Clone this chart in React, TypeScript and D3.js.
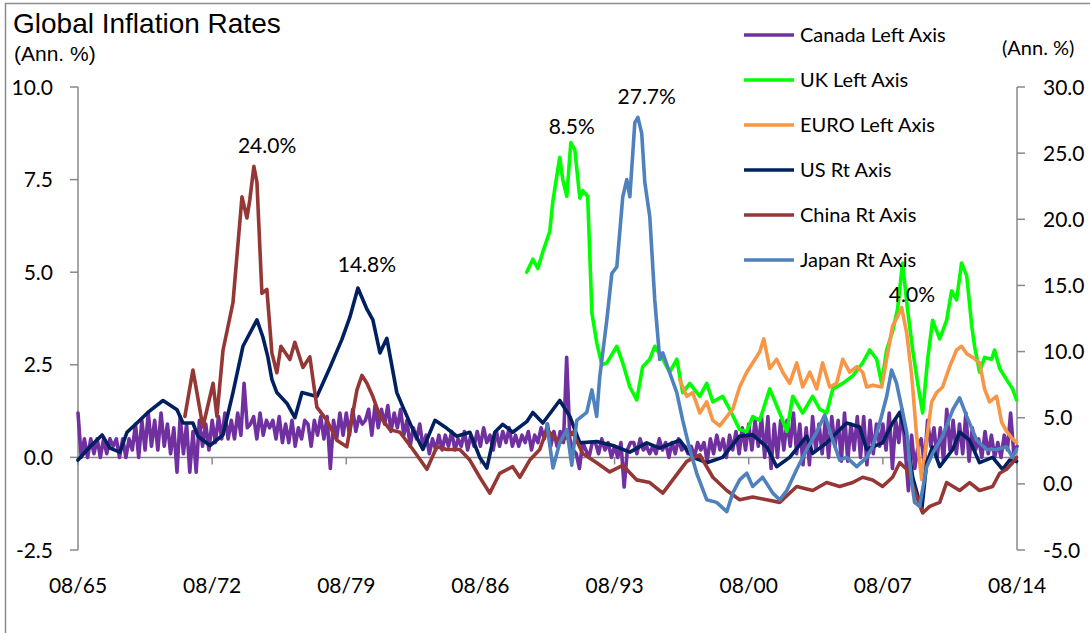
import React from "react";
import * as d3 from "d3";

// ---------- DATA ----------
const xTickLabels = ["08/65", "08/72", "08/79", "08/86", "08/93", "08/00", "08/07", "08/14"];
const xTickYears = [1965.583, 1972.583, 1979.583, 1986.583, 1993.583, 2000.583, 2007.583, 2014.583];
const leftTicks = [-2.5, 0, 2.5, 5, 7.5, 10];
const rightTicks = [-5, 0, 5, 10, 15, 20, 25, 30];

// Canada (left axis), every two months from Aug 1965 (one row per year)
const canadaStart = 1965.583;
const canadaStep = 1 / 6;
const canadaValues = [
  1.2, 0.0, 0.5, 0.0, 0.5, 0.1,
  0.5, 0.0, 0.5, 0.1, 0.5, 0.3,
  0.5, 0.0, 0.5, 0.0, 0.5, 0.2,
  0.9, 0.0, 1.0, 0.2, 1.2, 0.3,
  1.0, 0.2, 1.2, 0.3, 0.9, 0.1,
  0.8, -0.4, 1.1, 0.1, 0.9, -0.4,
  0.7, -0.4, 1.0, 0.3, 0.9, 0.2,
  1.0, 0.4, 1.1, 0.5, 1.2, 0.5,
  1.0, 0.5, 1.2, 0.6, 2.0, 0.8,
  0.9, 1.1, 0.5, 1.2, 0.6, 1.0,
  0.8, 1.0, 0.5, 1.1, 0.4, 0.9,
  0.4, 1.0, 0.3, 0.8, 0.5, 1.0,
  0.9, 0.3, 1.0, 0.6, 1.1, 0.5,
  1.1, -0.3, 1.0, 0.5, 1.2, 0.6,
  1.2, 0.6, 1.3, 0.7, 1.1, 0.9,
  1.0, 1.3, 0.6, 1.4, 0.8, 1.3,
  0.9, 1.4, 0.7, 1.2, 0.8, 1.3,
  0.6, 1.0, 0.3, 0.8, 0.5, 0.9,
  0.3, 0.6, 0.1, 0.5, 0.2, 0.6,
  0.2, 0.6, 0.3, 0.7, 0.2, 0.5,
  0.3, 0.7, 0.2, 0.6, 0.3, 0.7,
  0.3, 0.8, 0.4, 0.6, 0.2, 0.7,
  0.3, 0.7, 0.4, 0.8, 0.3, 0.6,
  0.3, 0.6, 0.4, 0.7, 0.2, 0.6,
  0.4, 0.8, 0.5, 0.9, 0.3, 0.7,
  0.3, 0.7, 0.4, 2.7, 0.5, 0.2,
  0.1, -0.3, 0.4, 0.2, 0.0, 0.4,
  0.4, 0.1, 0.5, 0.2, 0.4, 0.0,
  0.3, 0.0, 0.4, -0.8, 0.2, 0.4,
  0.4, 0.1, 0.5, 0.2, 0.3, 0.1,
  0.3, 0.1, 0.5, 0.2, 0.4, 0.0,
  0.4, 0.1, 0.5, 0.2, 0.3, 0.1,
  0.3, 0.0, 0.4, 0.2, 0.4, -0.1,
  0.5, 0.1, 0.6, 0.2, 0.5, 0.0,
  0.6, 0.2, 0.7, 0.1, 0.8, 0.2,
  0.9, 0.2, 1.0, 0.3, 1.1, 0.0,
  1.1, -0.3, 0.9, 0.0, 1.0, 0.2,
  1.0, 0.3, 1.2, 0.1, 0.9, -0.2,
  0.8, -0.2, 1.1, 0.2, 0.9, 0.1,
  1.0, 0.0, 1.1, 0.3, 1.0, -0.1,
  1.2, -0.1, 0.9, 0.2, 1.1, 0.0,
  1.1, -0.2, 1.0, 0.1, 0.9, 0.3,
  0.9, 0.2, 1.2, -0.3, 1.0, 0.4,
  1.3, 0.2, -0.9, 0.6, -0.3, 0.3,
  0.5, -0.2, 1.0, 0.3, 0.8, 0.0,
  0.8, -0.1, 1.3, 0.2, 1.0, 0.1,
  0.9, 0.1, 1.2, -0.1, 0.8, 0.2,
  0.5, 0.0, 0.7, 0.1, 0.6, 0.0,
  0.4, 0.0, 0.6, 0.2, 1.2, 0.1,
  0.3,
];

// UK (left axis) [year, value]
const ukData: [number, number][] = [
  [1989.0, 5.0], [1989.32, 5.35], [1989.58, 5.1], [1989.84, 5.55], [1990.2, 6.1], [1990.36, 6.9],
  [1990.72, 8.1], [1990.88, 7.5], [1991.09, 7.05], [1991.3, 8.5], [1991.51, 8.3], [1991.77, 7.0],
  [1991.92, 7.2], [1992.18, 7.05], [1992.4, 3.9], [1992.65, 3.1], [1992.92, 2.5], [1993.18, 2.55],
  [1993.7, 3.0], [1994.01, 2.55], [1994.38, 1.9], [1994.74, 1.55], [1995.05, 2.45], [1995.42, 2.65],
  [1995.68, 3.0], [1996.1, 2.65], [1996.46, 2.3], [1996.83, 2.65], [1997.14, 1.75], [1997.51, 2.0],
  [1998.03, 1.65], [1998.39, 2.0], [1998.71, 1.5], [1999.22, 1.65], [1999.59, 1.3], [2000.11, 0.75],
  [2000.48, 0.7], [2000.79, 1.1], [2001.16, 1.0], [2001.68, 1.85], [2002.2, 1.2], [2002.57, 0.7],
  [2002.88, 1.65], [2003.4, 1.2], [2003.92, 1.65], [2004.29, 1.3], [2004.65, 1.2], [2004.97, 1.85],
  [2005.49, 2.0], [2006.01, 2.2], [2006.53, 2.55], [2006.9, 2.9], [2007.26, 2.65], [2007.52, 2.0],
  [2007.78, 2.9], [2008.09, 3.4], [2008.35, 4.0], [2008.61, 5.25], [2008.87, 4.0], [2009.14, 2.9],
  [2009.4, 2.0], [2009.66, 1.2], [2009.92, 2.65], [2010.18, 3.7], [2010.55, 3.2], [2010.91, 3.7],
  [2011.17, 4.5], [2011.43, 4.25], [2011.69, 5.25], [2011.96, 4.9], [2012.22, 3.55], [2012.37, 3.0],
  [2012.63, 2.3], [2012.89, 2.7], [2013.26, 2.65], [2013.41, 2.9], [2013.68, 2.4], [2014.04, 2.1],
  [2014.35, 1.85], [2014.56, 1.55],
];

// EURO (left axis)
const euroData: [number, number][] = [
  [1996.98, 2.1], [1997.35, 1.65], [1997.66, 1.75], [1998.03, 1.2], [1998.39, 1.5], [1998.71, 1.0],
  [1999.07, 0.85], [1999.44, 1.1], [1999.75, 1.3], [2000.11, 1.9], [2000.48, 2.3], [2000.79, 2.55],
  [2001.16, 2.85], [2001.37, 3.2], [2001.68, 2.4], [2002.04, 2.65], [2002.36, 2.3], [2002.72, 2.0],
  [2003.09, 2.55], [2003.4, 1.9], [2003.77, 2.3], [2004.13, 1.85], [2004.44, 2.55], [2004.81, 1.9],
  [2005.17, 2.0], [2005.49, 2.65], [2005.85, 2.3], [2006.22, 2.45], [2006.53, 2.3], [2006.74, 1.9],
  [2007.05, 1.95], [2007.52, 1.9], [2007.78, 2.65], [2008.09, 3.55], [2008.35, 3.8], [2008.56, 4.05],
  [2008.83, 3.35], [2009.09, 2.2], [2009.35, 0.55], [2009.61, -0.6], [2009.87, 0.5], [2010.13, 1.5],
  [2010.39, 1.75], [2010.7, 1.9], [2011.07, 2.45], [2011.43, 2.9], [2011.69, 3.0], [2011.96, 2.8],
  [2012.27, 2.7], [2012.63, 2.55], [2012.89, 1.85], [2013.15, 1.5], [2013.52, 1.65], [2013.78, 0.95],
  [2014.04, 0.7], [2014.35, 0.5], [2014.56, 0.4],
];

// US (right axis)
const usData: [number, number][] = [
  [1965.58, 1.8], [1966.21, 2.8], [1966.84, 3.7], [1967.25, 2.7], [1967.77, 2.4], [1968.14, 3.9],
  [1968.66, 4.6], [1969.23, 5.4], [1970.02, 6.3], [1970.75, 5.6], [1971.06, 4.6], [1971.58, 4.6],
  [1971.84, 3.6], [1972.47, 2.9], [1973.15, 3.7], [1973.67, 6.9], [1974.19, 10.4], [1974.92, 12.4],
  [1975.23, 11.1], [1975.49, 9.6], [1975.7, 7.9], [1975.96, 6.9], [1976.48, 6.1], [1976.9, 5.0],
  [1977.27, 6.9], [1978.05, 6.6], [1978.73, 8.8], [1979.35, 10.9], [1979.77, 12.6], [1980.19, 14.8],
  [1980.66, 13.2], [1980.97, 12.4], [1981.34, 9.9], [1981.7, 11.0], [1982.22, 6.9], [1982.54, 5.8],
  [1983.06, 4.1], [1983.58, 2.6], [1984.21, 4.8], [1984.83, 4.2], [1985.35, 3.6], [1986.03, 3.9],
  [1986.55, 2.0], [1986.92, 1.2], [1987.33, 3.9], [1987.75, 4.5], [1988.27, 3.9], [1989.0, 4.7],
  [1989.32, 5.4], [1989.84, 4.6], [1990.72, 6.3], [1991.25, 5.1], [1991.77, 3.1], [1992.65, 3.2],
  [1993.49, 2.9], [1994.38, 2.4], [1995.26, 3.1], [1995.94, 2.7], [1996.98, 3.3], [1997.66, 2.0],
  [1998.39, 1.6], [1999.22, 2.0], [2000.11, 3.6], [2000.79, 3.7], [2001.52, 2.8], [2002.04, 1.3],
  [2002.72, 2.0], [2003.61, 3.6], [2003.92, 2.3], [2004.65, 3.1], [2005.69, 4.6], [2006.37, 4.3],
  [2006.74, 2.6], [2007.05, 2.8], [2007.57, 3.1], [2008.09, 4.6], [2008.46, 5.4], [2008.83, 3.6],
  [2009.14, 0.5], [2009.61, -2.0], [2009.87, 1.6], [2010.18, 2.8], [2010.55, 1.3], [2011.23, 2.6],
  [2011.59, 3.9], [2012.11, 3.3], [2012.63, 1.6], [2013.31, 2.0], [2013.83, 1.1], [2014.2, 1.8],
  [2014.56, 1.7],
];

// China (right axis)
const chinaData: [number, number][] = [
  [1971.16, 5.1], [1971.58, 8.6], [1971.79, 6.9], [1972.1, 4.3], [1972.31, 5.6], [1972.63, 7.6],
  [1972.83, 5.1], [1973.15, 10.1], [1973.67, 13.7], [1974.14, 21.7], [1974.4, 20.1], [1974.55, 21.5],
  [1974.76, 24.0], [1974.92, 22.8], [1975.18, 14.4], [1975.44, 14.7], [1975.7, 9.9], [1975.96, 8.4],
  [1976.17, 10.4], [1976.64, 9.4], [1976.9, 10.7], [1977.32, 8.8], [1977.68, 9.6], [1978.05, 5.8],
  [1978.57, 4.8], [1979.09, 3.3], [1979.61, 2.8], [1980.14, 7.1], [1980.4, 8.2], [1980.66, 7.6],
  [1980.97, 6.6], [1981.34, 5.1], [1981.86, 4.1], [1982.38, 3.9], [1983.06, 2.6], [1983.79, 1.1],
  [1984.31, 2.8], [1984.83, 2.6], [1985.51, 2.6], [1986.03, 1.8], [1986.55, 0.5], [1987.07, -0.7],
  [1987.59, 0.8], [1988.27, 1.3], [1988.64, 0.5], [1989.16, 1.8], [1989.68, 2.6], [1990.05, 4.1],
  [1990.72, 3.1], [1991.4, 3.9], [1991.92, 2.3], [1992.65, 1.6], [1993.33, 0.9], [1994.01, 1.4],
  [1994.74, 0.3], [1995.42, 0.1], [1996.1, -0.7], [1996.62, 0.3], [1997.35, 1.7], [1998.03, 2.2],
  [1998.71, 0.5], [1999.44, -0.5], [2000.11, -1.2], [2000.79, -1.0], [2001.52, -1.2], [2002.2, -1.4],
  [2003.09, -0.2], [2003.92, -0.5], [2004.65, 0.1], [2005.33, -0.2], [2006.01, 0.1], [2006.53, 0.5],
  [2007.05, 0.3], [2007.57, -0.2], [2008.09, 0.5], [2008.46, 1.6], [2008.83, 1.1], [2009.24, -0.5],
  [2009.66, -2.2], [2010.03, -1.7], [2010.55, -1.4], [2010.91, 0.1], [2011.59, -0.5], [2012.11, 0.1],
  [2012.63, -0.5], [2013.31, -0.2], [2013.68, 0.8], [2014.04, 1.1], [2014.35, 1.6], [2014.56, 2.0],
];

// Japan (right axis)
const japanData: [number, number][] = [
  [1990.05, 4.5], [1990.37, 1.2], [1990.72, 3.1], [1991.09, 4.1], [1991.35, 1.4], [1991.61, 4.8],
  [1992.13, 5.4], [1992.4, 7.1], [1992.65, 5.1], [1992.81, 8.1], [1993.18, 12.4], [1993.44, 15.9],
  [1993.7, 16.4], [1994.01, 21.7], [1994.22, 23.0], [1994.38, 21.7], [1994.64, 27.3], [1994.8, 27.7],
  [1995.0, 26.5], [1995.16, 22.8], [1995.42, 20.2], [1995.68, 13.9], [1995.94, 9.4], [1996.1, 9.9],
  [1996.46, 8.4], [1996.83, 6.9], [1997.14, 4.8], [1997.51, 2.6], [1997.87, 0.8], [1998.39, -1.2],
  [1998.91, -1.4], [1999.44, -2.1], [1999.75, -0.7], [2000.11, 0.3], [2000.48, 0.8], [2000.79, -0.2],
  [2001.31, 0.5], [2001.84, -0.7], [2002.2, -1.2], [2002.57, -0.5], [2003.09, 1.1], [2003.61, 2.6],
  [2004.13, 3.9], [2004.55, 5.2], [2004.97, 3.3], [2005.33, 1.8], [2005.69, 2.0], [2006.22, 1.3],
  [2006.74, 2.0], [2007.05, 2.8], [2007.42, 4.6], [2007.78, 6.6], [2008.04, 8.6], [2008.3, 7.6],
  [2008.56, 5.8], [2008.83, 3.9], [2009.09, 0.1], [2009.24, -1.4], [2009.5, -1.7], [2009.87, 1.3],
  [2010.18, 2.3], [2010.7, 3.6], [2011.23, 5.6], [2011.59, 6.5], [2011.96, 5.1], [2012.48, 3.3],
  [2013.0, 2.6], [2013.52, 2.6], [2014.04, 2.8], [2014.35, 2.0], [2014.56, 2.6],
];

const legendLabels = ["Canada Left Axis", "UK Left Axis", "EURO Left Axis", "US Rt Axis", "China Rt Axis", "Japan Rt Axis"];
const seriesColors = ["#7030A0", "#00FF00", "#F79646", "#002060", "#953735", "#4F81BD"];

const annotationTexts = ["24.0%", "14.8%", "8.5%", "27.7%", "4.0%"];
// anchor points [year, value, axis]
const annotationAnchors: [number, number, "L" | "R"][] = [
  [1975.45, 25.6, "R"],
  [1980.66, 16.6, "R"],
  [1991.35, 8.94, "L"],
  [1995.26, 29.25, "R"],
  [2009.1, 4.4, "L"],
];

// ---------- LAYOUT ----------
const W = 1090;
const H = 633;
const plotLeft = 78;
const plotRight = 1017;
const plotTop = 87;
const plotBottom = 550;

const x = d3.scaleLinear().domain([1965.583, 2014.583]).range([plotLeft, plotRight]);
const yL = d3.scaleLinear().domain([-2.5, 10]).range([plotBottom, plotTop]);
const yR = d3.scaleLinear().domain([-5, 30]).range([plotBottom, plotTop]);

const tickFont = "Lato, 'Open Sans', sans-serif";
const axisColor = "#898989";

export default function App() {
  const canadaPts: [number, number][] = canadaValues.map((v, i) => [canadaStart + i * canadaStep, v]);
  const lineL = d3.line<[number, number]>().x((d) => x(d[0])).y((d) => yL(d[1]));
  const lineR = d3.line<[number, number]>().x((d) => x(d[0])).y((d) => yR(d[1]));

  const series = [
    { d: lineL(canadaPts), c: seriesColors[0] },
    { d: lineL(ukData), c: seriesColors[1] },
    { d: lineL(euroData), c: seriesColors[2] },
    { d: lineR(usData), c: seriesColors[3] },
    { d: lineR(chinaData), c: seriesColors[4] },
    { d: lineR(japanData), c: seriesColors[5] },
  ];

  const zeroY = yL(0);

  return (
    <svg width={W} height={H} style={{ display: "block", position: "absolute", left: 0, top: 0, background: "#fff" }}>
      <rect x={5.5} y={3.5} width={W} height={H} fill="#fff" stroke="#8c8c8c" strokeWidth={1.5} />

      <text x={13} y={33} fontFamily="'Liberation Sans', Arial, sans-serif" fontSize={28} fill="#000">
        Global Inflation Rates
      </text>
      <text x={14} y={61} fontFamily="'Liberation Sans', Arial, sans-serif" fontSize={21} fill="#000">
        (Ann. %)
      </text>
      <text x={1002} y={55} fontFamily={tickFont} fontSize={20} fill="#000">
        (Ann. %)
      </text>

      {/* left axis */}
      <line x1={plotLeft} x2={plotLeft} y1={plotTop} y2={plotBottom} stroke={axisColor} strokeWidth={1.5} />
      {leftTicks.map((t) => (
        <g key={"l" + t}>
          <line x1={plotLeft - 8} x2={plotLeft} y1={yL(t)} y2={yL(t)} stroke={axisColor} strokeWidth={1.5} />
          <text x={53} y={yL(t)} dy="0.36em" textAnchor="end" fontFamily={tickFont} fontSize={21} fill="#000">
            {t.toFixed(1)}
          </text>
        </g>
      ))}

      {/* right axis */}
      <line x1={plotRight} x2={plotRight} y1={plotTop} y2={plotBottom} stroke={axisColor} strokeWidth={1.5} />
      {rightTicks.map((t) => (
        <g key={"r" + t}>
          <line x1={plotRight} x2={plotRight + 8} y1={yR(t)} y2={yR(t)} stroke={axisColor} strokeWidth={1.5} />
          <text x={1043} y={yR(t)} dy="0.36em" textAnchor="start" fontFamily={tickFont} fontSize={21} fill="#000">
            {t.toFixed(1)}
          </text>
        </g>
      ))}

      {/* x axis at zero */}
      <line x1={plotLeft} x2={plotRight} y1={zeroY} y2={zeroY} stroke={axisColor} strokeWidth={1.5} />
      {xTickYears.map((yr, i) => (
        <g key={"x" + i}>
          <line x1={x(yr)} x2={x(yr)} y1={zeroY} y2={zeroY + 7} stroke={axisColor} strokeWidth={1.5} />
          <text x={x(yr)} y={585} dy="0.36em" textAnchor="middle" fontFamily={tickFont} fontSize={21} fill="#000">
            {xTickLabels[i]}
          </text>
        </g>
      ))}

      {/* series */}
      {series.map((s, i) => (
        <path key={i} d={s.d || ""} fill="none" stroke={s.c} strokeWidth={3.6} strokeLinejoin="round" strokeLinecap="round" />
      ))}

      {/* annotations */}
      {annotationTexts.map((t, i) => {
        const a = annotationAnchors[i];
        const yy = a[2] === "L" ? yL(a[1]) : yR(a[1]);
        return (
          <text key={"a" + i} x={x(a[0])} y={yy} dy="0.36em" textAnchor="middle" fontFamily={tickFont} fontSize={21} fill="#000">
            {t}
          </text>
        );
      })}

      {/* legend */}
      {legendLabels.map((l, i) => {
        const ly = 35 + i * 45;
        return (
          <g key={"lg" + i}>
            <line x1={744} x2={794} y1={ly} y2={ly} stroke={seriesColors[i]} strokeWidth={3.5} />
            <text x={800} y={ly} dy="0.36em" fontFamily={tickFont} fontSize={20} fill="#000">
              {l}
            </text>
          </g>
        );
      })}
    </svg>
  );
}
